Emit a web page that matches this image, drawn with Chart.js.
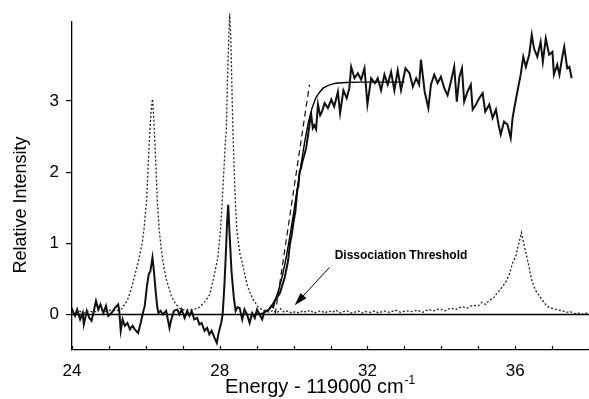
<!DOCTYPE html>
<html>
<head>
<meta charset="utf-8">
<script src="https://cdn.jsdelivr.net/npm/chart.js@4"></script>
<style>
  html, body { margin: 0; padding: 0; background: #fff; }
  #wrap { width: 589px; height: 399px; }
</style>
</head>
<body>
<div id="wrap"><canvas id="grafico" width="589" height="399"></canvas></div>
<script>
// energia (cm-1 acima de 119000) e intensidade

// sinal medido (linha cheia ruidosa)
const sinalX = [24.00,24.02,24.08,24.14,24.22,24.29,24.32,24.40,24.47,24.53,24.60,24.65,24.71,24.77,24.85,24.92,24.98,25.07,25.16,25.25,25.28,25.32,25.37,25.43,25.50,25.57,25.64,25.70,25.79,25.86,25.91,25.97,26.03,26.08,26.12,26.18,26.22,26.27,26.31,26.34,26.40,26.46,26.55,26.64,26.68,26.76,26.85,26.91,26.97,27.05,27.12,27.18,27.24,27.31,27.39,27.45,27.51,27.59,27.66,27.72,27.78,27.86,27.92,27.97,28.04,28.08,28.13,28.17,28.20,28.23,28.27,28.32,28.38,28.43,28.48,28.54,28.61,28.67,28.74,28.81,28.88,28.95,29.01,29.08,29.15,29.22,29.31,29.40,29.45,29.49,29.58,29.63,29.67,29.72,29.76,29.80,29.85,29.90,29.95,30.00,30.05,30.10,30.13,30.16,30.20,30.24,30.28,30.34,30.40,30.44,30.48,30.52,30.56,30.61,30.66,30.72,30.77,30.84,30.93,31.02,31.10,31.20,31.26,31.35,31.44,31.51,31.56,31.65,31.74,31.83,31.92,32.00,32.10,32.20,32.28,32.37,32.46,32.55,32.64,32.73,32.82,32.91,33.03,33.14,33.23,33.32,33.40,33.45,33.55,33.65,33.72,33.81,33.90,33.99,34.08,34.17,34.26,34.35,34.42,34.49,34.56,34.62,34.71,34.80,34.85,34.94,35.03,35.12,35.19,35.30,35.39,35.48,35.55,35.61,35.70,35.79,35.88,35.93,35.97,36.06,36.15,36.22,36.29,36.38,36.45,36.51,36.60,36.69,36.75,36.83,36.92,37.01,37.05,37.14,37.20,37.27,37.33,37.41,37.47,37.53];
const sinalY = [0.03,0.05,-0.02,0.07,-0.07,0.02,-0.14,0.05,-0.05,-0.09,0.07,0.19,0.07,0.14,0.02,0.12,-0.02,0.02,0.09,0.14,0.05,-0.23,-0.07,-0.16,-0.12,-0.21,-0.16,-0.21,-0.26,-0.12,0.00,0.12,0.40,0.57,0.60,0.80,0.60,0.30,0.10,0.02,0.05,0.00,0.05,-0.19,-0.09,0.05,0.07,0.00,0.07,-0.05,0.05,-0.02,0.05,-0.07,-0.05,-0.14,-0.12,-0.23,-0.19,-0.28,-0.23,-0.33,-0.40,-0.26,-0.12,0.00,0.44,0.90,1.30,1.54,1.10,0.60,0.25,0.05,0.10,0.09,-0.07,0.07,0.00,-0.12,0.02,-0.05,0.07,0.00,-0.07,0.05,0.05,0.12,0.10,0.19,0.26,0.30,0.37,0.45,0.52,0.62,0.75,0.98,1.12,1.30,1.45,1.75,1.80,2.00,2.05,2.15,2.22,2.34,2.55,2.70,2.80,2.62,2.66,2.60,2.95,2.80,2.85,2.97,2.90,3.02,2.92,3.13,2.83,3.15,3.04,3.18,3.48,3.32,3.39,3.30,3.46,2.95,3.32,3.25,3.32,3.15,3.37,3.23,3.41,3.15,3.43,3.15,3.46,3.39,3.20,3.32,3.23,3.58,3.13,2.90,3.23,3.37,3.25,3.34,3.18,3.08,3.27,3.48,2.99,3.34,3.46,2.99,3.13,3.23,2.88,2.95,3.04,3.11,2.85,2.95,2.76,2.88,2.67,2.53,2.71,2.67,2.48,2.76,2.88,3.13,3.37,3.62,3.48,3.65,3.93,3.74,3.62,3.83,3.55,3.88,3.65,3.69,3.37,3.51,3.37,3.60,3.76,3.46,3.48,3.32];

// espectro de referencia (pontilhado)
const refX = [24.00,24.15,24.30,24.45,24.60,24.75,24.90,25.05,25.20,25.35,25.50,25.60,25.70,25.80,25.90,25.95,26.02,26.08,26.14,26.18,26.22,26.28,26.31,26.36,26.42,26.47,26.55,26.69,26.80,26.95,27.10,27.30,27.45,27.60,27.73,27.85,27.95,28.03,28.09,28.15,28.18,28.21,28.24,28.27,28.30,28.33,28.36,28.40,28.43,28.47,28.55,28.63,28.75,28.90,29.05,29.20,29.35,29.45,29.55,29.65,29.75,29.85,29.95,30.05,30.15,30.25,30.35,30.45,30.55,30.65,30.75,30.85,30.95,31.05,31.15,31.25,31.35,31.45,31.55,31.65,31.75,31.85,31.95,32.10,32.20,32.30,32.45,32.60,32.75,32.90,33.05,33.20,33.35,33.50,33.65,33.80,33.95,34.10,34.25,34.40,34.55,34.70,34.85,35.00,35.10,35.20,35.30,35.40,35.48,35.60,35.75,35.84,35.93,36.02,36.10,36.17,36.25,36.32,36.38,36.45,36.54,36.64,36.74,36.85,36.96,37.10,37.28,37.40,37.50,37.60,37.70,37.80,37.90,38.00];
const refY = [0.03,0.06,0.02,0.05,0.03,0.07,0.04,0.06,0.05,0.08,0.20,0.35,0.55,0.75,1.00,1.20,1.60,2.30,2.85,3.03,2.70,2.00,1.60,1.20,0.90,0.72,0.50,0.26,0.15,0.07,0.06,0.07,0.10,0.18,0.28,0.55,0.80,1.25,1.80,2.40,2.60,3.30,3.80,4.23,3.90,3.20,2.55,1.90,1.50,1.15,0.85,0.68,0.40,0.21,0.10,0.05,0.03,0.06,0.02,0.08,0.03,0.05,0.02,0.04,0.02,0.05,0.03,0.06,0.02,0.04,0.05,0.02,0.05,0.03,0.06,0.02,0.04,0.05,0.02,0.03,0.05,0.02,0.04,0.03,0.05,0.02,0.05,0.03,0.06,0.03,0.05,0.04,0.06,0.03,0.07,0.05,0.08,0.05,0.09,0.07,0.11,0.09,0.13,0.12,0.17,0.14,0.20,0.22,0.28,0.35,0.46,0.56,0.72,0.82,1.00,1.15,0.95,0.80,0.66,0.48,0.35,0.27,0.20,0.12,0.09,0.07,0.05,0.03,0.04,0.01,0.02,0.00,0.02,0.00];

// ajuste (curva suave)
const ajusteX = [29.00,29.20,29.35,29.50,29.60,29.70,29.80,29.90,30.00,30.10,30.20,30.30,30.40,30.50,30.60,30.70,30.80,30.90,31.00,31.15,31.40,31.80,33.00];
const ajusteY = [0.00,0.02,0.08,0.20,0.35,0.55,0.80,1.10,1.42,1.76,2.10,2.42,2.70,2.90,3.04,3.12,3.18,3.21,3.23,3.25,3.26,3.265,3.265];

// reta tracejada no limiar
const retaX = [29.50, 30.43];
const retaY = [0.00, 3.23];

// linha do zero
const zeroX = [24, 38];
const zeroY = [0, 0];

const ticksY = [0, 1, 2, 3];
const rotuloX = 'Energy - 119000 cm';
const rotuloY = 'Relative Intensity';
const anotacao = 'Dissociation Threshold';
const setaDe = [30.97, 0.66];
const setaPara = [30.03, 0.13];

const fonte = "'Liberation Sans', Arial, sans-serif";

function pares(xs, ys) {
  return xs.map((x, i) => ({ x: x, y: ys[i] }));
}

// desenha titulos, marcas internas do eixo x e a seta
const decoracao = {
  id: 'decoracao',
  afterDraw(chart) {
    const c = chart.ctx;
    const sx = chart.scales.x;
    const sy = chart.scales.y;
    const base = chart.chartArea.bottom;
    c.save();
    c.strokeStyle = '#000';
    c.lineWidth = 1.2;
    for (let v = 24; v <= 38; v++) {
      const px = Math.round(sx.getPixelForValue(v)) + 0.5;
      c.beginPath();
      c.moveTo(px, base);
      c.lineTo(px, base - 4);
      c.stroke();
    }

    c.fillStyle = '#000';
    c.font = '20px ' + fonte;
    c.textBaseline = 'alphabetic';
    c.textAlign = 'left';
    const w = c.measureText(rotuloX).width;
    const x0 = 225;
    c.fillText(rotuloX, x0, 393);
    c.font = '12px ' + fonte;
    c.fillText('-1', x0 + w + 1, 384);

    c.save();
    c.translate(26, 205);
    c.rotate(-Math.PI / 2);
    c.font = '18px ' + fonte;
    c.textAlign = 'center';
    c.fillText(rotuloY, 0, 0);
    c.restore();

    c.font = 'bold 12px ' + fonte;
    c.textAlign = 'center';
    c.textBaseline = 'middle';
    c.fillText(anotacao, 401, 256);

    // seta
    const ax = sx.getPixelForValue(setaDe[0]), ay = sy.getPixelForValue(setaDe[1]);
    const bx = sx.getPixelForValue(setaPara[0]), by = sy.getPixelForValue(setaPara[1]);
    const ang = Math.atan2(by - ay, bx - ax);
    c.lineWidth = 1;
    c.beginPath();
    c.moveTo(ax, ay);
    c.lineTo(bx - 10 * Math.cos(ang), by - 10 * Math.sin(ang));
    c.stroke();
    c.beginPath();
    c.moveTo(bx, by);
    c.lineTo(bx - 13 * Math.cos(ang) + 4 * Math.sin(ang), by - 13 * Math.sin(ang) - 4 * Math.cos(ang));
    c.lineTo(bx - 13 * Math.cos(ang) - 4 * Math.sin(ang), by - 13 * Math.sin(ang) + 4 * Math.cos(ang));
    c.closePath();
    c.fill();
    c.restore();
  }
};

const ctx = document.getElementById('grafico').getContext('2d');
new Chart(ctx, {
  type: 'scatter',
  data: {
    datasets: [
      { data: pares(zeroX, zeroY), borderColor: '#000', borderWidth: 1.6 },
      { data: pares(refX, refY), borderColor: '#222', borderWidth: 1.3, borderDash: [2, 2], clip: false },
      { data: pares(retaX, retaY), borderColor: '#111', borderWidth: 1.2, borderDash: [6, 4] },
      { data: pares(ajusteX, ajusteY), borderColor: '#000', borderWidth: 1.4 },
      { data: pares(sinalX, sinalY), borderColor: '#111', borderWidth: 2 }
    ]
  },
  options: {
    responsive: false,
    animation: false,
    showLine: true,
    elements: { point: { radius: 0 }, line: { tension: 0 } },
    layout: { padding: { top: 22, right: 0, left: 0, bottom: 0 } },
    plugins: { legend: { display: false }, tooltip: { enabled: false } },
    scales: {
      x: {
        type: 'linear',
        min: 24,
        max: 38,
        afterFit: s => { s.height = 49; s.paddingRight = 0; s.paddingLeft = 0; },
        border: { display: true, color: '#000', width: 1.3 },
        grid: { drawOnChartArea: false, drawTicks: false },
        ticks: {
          stepSize: 1,
          autoSkip: false,
          maxRotation: 0,
          padding: 11,
          color: '#000',
          font: { family: fonte, size: 17 },
          callback: v => (v % 4 === 0 && v < 38) ? String(v) : ''
        }
      },
      y: {
        type: 'linear',
        min: -0.5,
        max: 4.11,
        afterFit: s => { s.width = 72; },
        afterBuildTicks: s => { s.ticks = ticksY.map(v => ({ value: v })); },
        border: { display: true, color: '#000', width: 1.3 },
        grid: { drawOnChartArea: false, drawTicks: true, tickLength: 6, color: '#000', lineWidth: 1.2 },
        ticks: {
          padding: 7,
          color: '#000',
          font: { family: fonte, size: 17 },
          callback: v => String(v)
        }
      }
    }
  },
  plugins: [decoracao]
});
</script>
</body>
</html>
